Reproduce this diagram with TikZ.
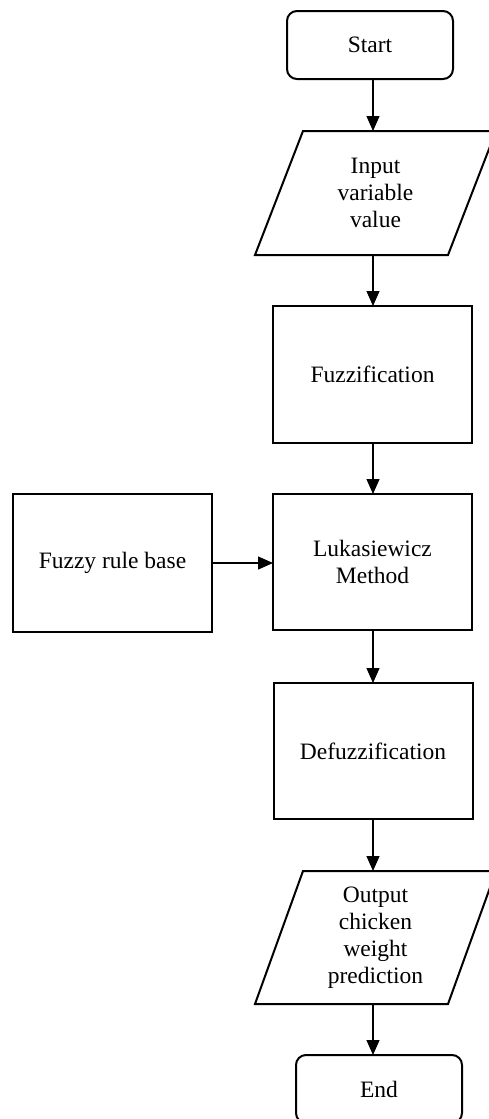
\documentclass[tikz,border=0pt]{standalone}
\usepackage{fontspec}
\setmainfont{Liberation Serif}
\usetikzlibrary{arrows.meta}
\begin{document}
\begin{tikzpicture}[x=1pt,y=-1pt,
  every node/.style={font=\fontsize{23.5}{27}\selectfont, align=center, inner sep=0pt, outer sep=0pt},
  box/.style={draw, line width=2pt, minimum width=199pt, minimum height=137pt},
  term/.style={draw, line width=2pt, rounded corners=10pt, minimum width=166pt, minimum height=68pt},
  io/.style={minimum width=193pt, minimum height=124pt},
  para/.style={draw, line width=2pt, line join=miter},
  conn/.style={line width=1.2pt, -{Triangle[width=13pt,length=15pt]}}
]
\useasboundingbox (0,0) rectangle (489,1119);
\clip (0,0) rectangle (489,1119);
\coordinate (col) at (373,0);

\node[term] (start) at (370,45) {Start};
\node[io] (input) at (375.5,193) {Input\\variable\\value};
\draw[para] ([xshift=24pt]input.north west) -- ([xshift=24pt]input.north east)
  -- ([xshift=-24pt]input.south east) -- ([xshift=-24pt]input.south west) -- cycle;
\node[box] (fuzz) at (372.5,374.5) {Fuzzification};
\node[box, minimum height=136pt] (luk) at (372.5,562) {Lukasiewicz\\Method};
\node[box, minimum height=138pt] (rule) at (112.5,563) {Fuzzy rule base};
\node[box, minimum height=136pt] (defuzz) at (373,751) {Defuzzification};
\node[io, minimum height=133pt] (output) at (375.5,937.5) {Output\\chicken\\weight\\prediction};
\draw[para] ([xshift=24pt]output.north west) -- ([xshift=24pt]output.north east)
  -- ([xshift=-24pt]output.south east) -- ([xshift=-24pt]output.south west) -- cycle;
\node[term] (end) at (379,1089) {End};

\draw[conn] (start.south -| col) -- (input.north -| col);
\draw[conn] (input.south -| col) -- (fuzz.north -| col);
\draw[conn] (fuzz.south -| col) -- (luk.north -| col);
\draw[conn] (rule.east) -- (rule.east -| luk.west);
\draw[conn] (luk.south -| col) -- (defuzz.north -| col);
\draw[conn] (defuzz.south -| col) -- (output.north -| col);
\draw[conn] (output.south -| col) -- (end.north -| col);
\end{tikzpicture}
\end{document}
